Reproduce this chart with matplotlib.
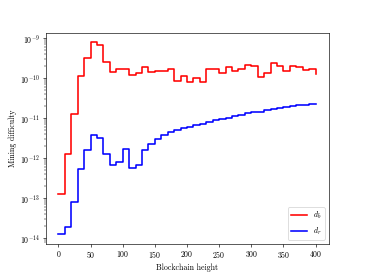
import matplotlib
matplotlib.use("Agg")
import matplotlib.pyplot as plt

plt.rcParams['font.family'] = 'serif'
plt.rcParams['font.serif'] = ['cmr10']
plt.rcParams['mathtext.fontset'] = 'cm'
plt.rcParams['axes.formatter.use_mathtext'] = True

heights = list(range(0, 401, 10))
d_b = [1.23e-13, 1.28e-12, 1.24e-11, 1.1e-10, 3.2e-10, 7.7e-10, 6.7e-10, 2.5e-10,
       1.4e-10, 1.65e-10, 1.7e-10, 1.17e-10, 1.35e-10, 1.9e-10, 1.37e-10, 1.5e-10,
       1.5e-10, 1.65e-10, 8.4e-11, 1.15e-10, 8.1e-11, 9.7e-11, 8.1e-11, 1.65e-10,
       1.65e-10, 1.35e-10, 1.9e-10, 1.48e-10, 1.68e-10, 2.15e-10, 2.0e-10, 1.08e-10,
       1.36e-10, 2.4e-10, 2.0e-10, 1.45e-10, 2.0e-10, 1.9e-10, 1.55e-10, 1.7e-10,
       1.29e-10]
d_r = [1.24e-14, 1.87e-14, 8.1e-14, 5.4e-13, 1.55e-12, 3.7e-12, 3.2e-12, 1.24e-12,
       6.8e-13, 8.0e-13, 1.66e-12, 5.6e-13, 6.6e-13, 1.55e-12, 2.25e-12, 2.95e-12,
       3.8e-12, 4.5e-12, 5.0e-12, 5.6e-12, 5.96e-12, 6.6e-12, 7.2e-12, 7.9e-12,
       8.7e-12, 9.3e-12, 1.0e-11, 1.1e-11, 1.2e-11, 1.3e-11, 1.38e-11, 1.42e-11,
       1.55e-11, 1.65e-11, 1.75e-11, 1.9e-11, 1.97e-11, 2.05e-11, 2.1e-11, 2.2e-11,
       2.25e-11]

fig, ax = plt.subplots(figsize=(365 / 57, 274 / 57), dpi=57)
ax.step(heights, d_b, where='post', color='red', lw=2, label=r'$d_b$')
ax.step(heights, d_r, where='post', color='blue', lw=2, label=r'$d_r$')
ax.set_yscale('log')
ax.set_xlabel('Blockchain height')
ax.set_ylabel('Mining difficulty')
ax.legend(loc='lower right')
fig.savefig('out.png', dpi=57)
